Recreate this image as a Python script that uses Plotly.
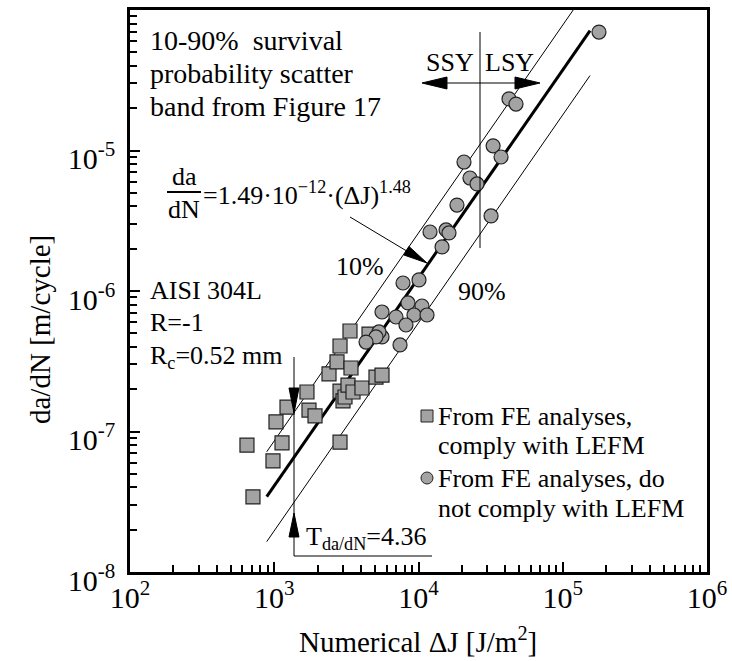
import math
import plotly.graph_objects as go

# ---------------- data ----------------
dj_lefm = [712, 647, 980, 1132, 1028, 1226, 1686, 1741, 1917, 2857, 2397, 2723,
           2857, 3350, 3404, 2857, 2997, 3093, 3245, 3516, 4056, 5073, 5585, 4539]
dadn_lefm = [3.42e-8, 8.0e-8, 6.17e-8, 8.3e-8, 1.17e-7, 1.49e-7, 1.91e-7, 1.42e-7,
             1.29e-7, 8.4e-8, 2.57e-7, 3.13e-7, 4.06e-7, 5.19e-7, 2.83e-7, 1.94e-7,
             1.65e-7, 1.76e-7, 2.14e-7, 1.91e-7, 2.04e-7, 2.44e-7, 2.52e-7, 4.94e-7]

dj_nolefm = [178300, 42380, 47420, 32890, 37350, 20670, 22740, 25450, 18480, 31840,
             12018, 15530, 16270, 14560, 10079, 7810, 8454, 10570, 9306, 11455,
             6982, 8187, 5585, 5585, 7446, 5322, 5073, 4328]
dadn_nolefm = [6.97e-5, 2.33e-5, 2.14e-5, 1.08e-5, 8.99e-6, 8.28e-6, 6.37e-6, 5.78e-6,
               4.09e-6, 3.42e-6, 2.63e-6, 2.72e-6, 2.59e-6, 2.06e-6, 1.20e-6, 1.14e-6,
               8.22e-7, 7.82e-7, 6.75e-7, 6.75e-7, 6.53e-7, 5.73e-7, 7.09e-7, 4.71e-7,
               4.13e-7, 5.11e-7, 4.71e-7, 4.33e-7]

# scatter band: da/dN = C * dJ^m, T = 4.36
C_COEF = 1.49e-12
M_EXP = 1.48
T_BAND = 4.36
band_dj = [887, 154600]

x_tickvals = [1e2, 1e3, 1e4, 1e5, 1e6]
x_ticktext = ["10<sup>2</sup>", "10<sup>3</sup>", "10<sup>4</sup>", "10<sup>5</sup>", "10<sup>6</sup>"]
y_tickvals = [1e-8, 1e-7, 1e-6, 1e-5, 1e-4]
y_ticktext = ["10<sup>-8</sup>", "10<sup>-7</sup>", "10<sup>-6</sup>", "10<sup>-5</sup>", "10<sup>-4</sup>"]

# ---------------- layout helpers ----------------
W, H = 732, 661
PX0, PX1, PY0, PY1 = 130, 707, 10, 572
FONT = "Liberation Serif, Times New Roman, serif"


def px(x):
    return (x - PX0) / (PX1 - PX0)


def py(y):
    return (PY1 - y) / (PY1 - PY0)


mean_line = [C_COEF * d ** M_EXP for d in band_dj]
upper_line = [v * math.sqrt(T_BAND) for v in mean_line]
lower_line = [v / math.sqrt(T_BAND) for v in mean_line]

fig = go.Figure()
fig.add_trace(go.Scatter(x=band_dj, y=upper_line, mode="lines",
                         line=dict(color="black", width=1), hoverinfo="skip"))
fig.add_trace(go.Scatter(x=band_dj, y=lower_line, mode="lines",
                         line=dict(color="black", width=1), hoverinfo="skip"))
fig.add_trace(go.Scatter(x=band_dj, y=mean_line, mode="lines",
                         line=dict(color="black", width=3), hoverinfo="skip"))
fig.add_trace(go.Scatter(x=dj_lefm, y=dadn_lefm, mode="markers",
                         name="From FE analyses, comply with LEFM",
                         marker=dict(symbol="square", size=14, color="#a3a3a3",
                                     line=dict(color="#222222", width=1.2))))
fig.add_trace(go.Scatter(x=dj_nolefm, y=dadn_nolefm, mode="markers",
                         name="From FE analyses, do not comply with LEFM",
                         marker=dict(symbol="circle", size=14, color="#a3a3a3",
                                     line=dict(color="#222222", width=1.2))))

shapes = []
annotations = []


def line(x0, y0, x1, y1, w=1):
    shapes.append(dict(type="line", xref="paper", yref="paper",
                       x0=px(x0), y0=py(y0), x1=px(x1), y1=py(y1),
                       line=dict(color="black", width=w)))


def head(tx, ty, fx, fy, L=24, hw=5):
    # triangle arrow head with tip (tx,ty), pointing away from (fx,fy)
    dx, dy = tx - fx, ty - fy
    n = math.hypot(dx, dy)
    dx, dy = dx / n, dy / n
    bx, by = tx - L * dx, ty - L * dy
    ox, oy = -dy * hw, dx * hw
    pts = [(tx, ty), (bx + ox, by + oy), (bx - ox, by - oy)]
    path = "M " + " L ".join(f"{px(a):.5f},{py(b):.5f}" for a, b in pts) + " Z"
    shapes.append(dict(type="path", xref="paper", yref="paper", path=path,
                       fillcolor="black", line=dict(color="black", width=1)))


def text(s, x, y, size=26, xanchor="left", yanchor="middle"):
    annotations.append(dict(text=s, x=px(x), y=py(y), xref="paper", yref="paper",
                            showarrow=False, xanchor=xanchor, yanchor=yanchor,
                            font=dict(family=FONT, size=size, color="black")))


# top-left text
text("10-90%\u00a0 survival", 148, 40, size=28)
text("probability scatter", 148, 73, size=28)
text("band from Figure 17", 148, 106, size=28)

# equation
text("da", 184, 176, xanchor="center")
text("dN", 184, 210, xanchor="center")
line(167, 192, 201, 192, 2)
text("=1.49·10<sup>−12</sup>·(ΔJ)<sup>1.48</sup>", 201, 194)
line(350, 217, 410, 253)
head(427, 263, 350, 217)

text("10%", 360, 266, xanchor="center")
text("90%", 482, 291, xanchor="center")

# material info
text("AISI 304L", 148, 290)
text("R=-1", 148, 322)
text("R<sub>c</sub>=0.52 mm", 148, 357)

# Rc / T marker lines
line(294, 357, 294, 556)
line(294, 556, 432, 556)
head(294, 413, 294, 357, L=25, hw=5)
head(294, 513, 294, 556, L=24, hw=5)
text("T<sub>da/dN</sub>=4.36", 304, 538)

# SSY / LSY
line(480, 32, 480, 248)
line(440, 83, 522, 83)
head(422, 83, 480, 83, L=25, hw=6)
head(540, 83, 480, 83, L=25, hw=6)
text("SSY", 450, 63, xanchor="center")
text("LSY", 509, 63, xanchor="center")

# manual legend
LEG_SQ_Y, LEG_CI_Y, LEG_GAP = 416, 478, 30
shapes.append(dict(type="rect", xref="paper", yref="paper",
                   x0=px(421), x1=px(433), y0=py(LEG_SQ_Y + 6), y1=py(LEG_SQ_Y - 6),
                   fillcolor="#a3a3a3", line=dict(color="#222222", width=1)))
shapes.append(dict(type="circle", xref="paper", yref="paper",
                   x0=px(421), x1=px(433), y0=py(LEG_CI_Y + 6), y1=py(LEG_CI_Y - 6),
                   fillcolor="#a3a3a3", line=dict(color="#222222", width=1)))
text("From FE analyses,", 436, LEG_SQ_Y)
text("comply with LEFM", 436, LEG_SQ_Y + LEG_GAP)
text("From FE analyses, do", 436, LEG_CI_Y)
text("not comply with LEFM", 436, LEG_CI_Y + LEG_GAP)

# axis titles
text("Numerical ΔJ [J/m<sup>2</sup>]", 418, 640, size=29, xanchor="center")
annotations.append(dict(text="da/dN [m/cycle]", x=px(40), y=py(330), xref="paper", yref="paper",
                        showarrow=False, textangle=-90, xanchor="center", yanchor="middle",
                        font=dict(family=FONT, size=29, color="black")))

minor_x = [k * 10 ** e for e in range(2, 6) for k in range(2, 10)]
minor_y = [k * 10.0 ** e for e in range(-8, -4) for k in range(2, 10)]

axis_common = dict(type="log", showline=True, linecolor="black", linewidth=2.5, mirror=True,
                   ticks="inside", ticklen=10, tickwidth=2, tickcolor="black",
                   showgrid=False, zeroline=False,
                   tickfont=dict(family=FONT, size=30, color="black"))

fig.update_layout(
    width=W, height=H,
    margin=dict(l=PX0, r=W - PX1, t=PY0, b=H - PY1, autoexpand=False),
    paper_bgcolor="white", plot_bgcolor="white",
    showlegend=False,
    xaxis=dict(range=[2, 6], tickmode="array", tickvals=x_tickvals, ticktext=x_ticktext,
               minor=dict(tickmode="array", tickvals=minor_x, ticks="inside", ticklen=7,
                          tickwidth=1.5, tickcolor="black", showgrid=False),
               ticklabelstandoff=-3, **axis_common),
    yaxis=dict(range=[-8, -4], tickmode="array", tickvals=y_tickvals, ticktext=y_ticktext,
               minor=dict(tickmode="array", tickvals=minor_y, ticks="inside", ticklen=7,
                          tickwidth=1.5, tickcolor="black", showgrid=False),
               ticklabelstandoff=6, ticklabelshift=8, **axis_common),
    shapes=shapes,
    annotations=annotations,
    font=dict(family=FONT, color="black"),
)

fig.write_html("out.html")
